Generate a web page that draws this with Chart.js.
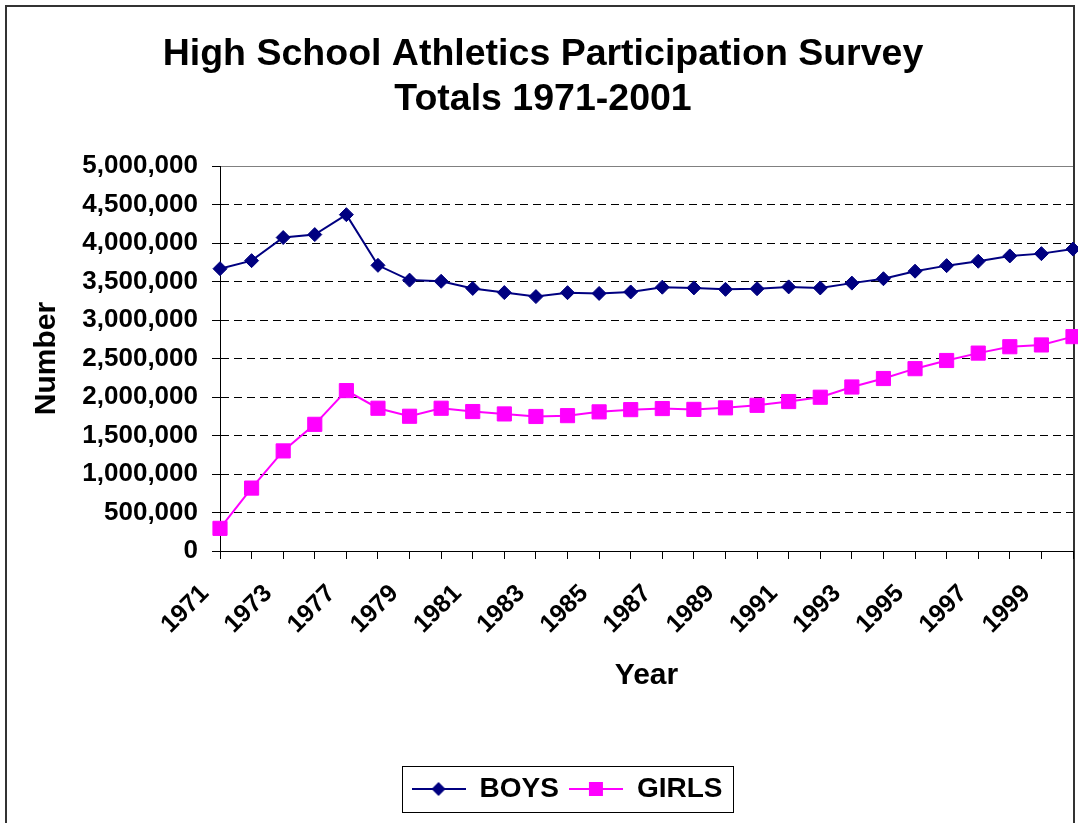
<!DOCTYPE html>
<html>
<head>
<meta charset="utf-8">
<title>High School Athletics Participation Survey</title>
<script src="https://cdn.jsdelivr.net/npm/chart.js@4.4.1/dist/chart.umd.min.js"></script>
<style>
  html, body { margin: 0; padding: 0; background: #fff; overflow: hidden; }
</style>
</head>
<body>
<!-- a bit wider than the window: the original picture is cut off on the right -->
<canvas id="chart" width="1084" height="823"></canvas>
<script>
// survey years (a few early years are missing from the survey)
const years = ['1971', '1972', '1973', '1975', '1977', '1978', '1979', '1980', '1981', '1982',
  '1983', '1984', '1985', '1986', '1987', '1988', '1989', '1990', '1991', '1992',
  '1993', '1994', '1995', '1996', '1997', '1998', '1999', '2000'];

// only every other year gets a label on the axis
const xTickLabels = ['1971', '1973', '1977', '1979', '1981', '1983', '1985', '1987',
  '1989', '1991', '1993', '1995', '1997', '1999'];

const boys = [3666000, 3771000, 4071000, 4109000, 4368000, 3710000, 3518000, 3503000, 3410000, 3356000,
  3304000, 3355000, 3345000, 3364000, 3426000, 3417000, 3398000, 3406000, 3430000, 3416000,
  3479000, 3536000, 3634000, 3706000, 3763000, 3832000, 3862000, 3921000];

const girls = [294000, 817000, 1300000, 1645000, 2083000, 1854000, 1750000, 1854000, 1811000, 1780000,
  1747000, 1758000, 1807000, 1836000, 1850000, 1839000, 1859000, 1892000, 1941000, 1997000,
  2130000, 2240000, 2368000, 2474000, 2570000, 2653000, 2676000, 2784000];

const BOYS_COLOR = '#000080';
const GIRLS_COLOR = '#FF00FF';
const FONT = "'Liberation Sans', Arial, sans-serif";

// legend swatch: short line with the marker in the middle
function makeSwatch(color, shape) {
  const c = document.createElement('canvas');
  c.width = 54;
  c.height = 20;
  const g = c.getContext('2d');
  g.strokeStyle = color;
  g.lineWidth = 2;
  g.beginPath();
  g.moveTo(0, 10);
  g.lineTo(54, 10);
  g.stroke();
  g.fillStyle = color;
  g.beginPath();
  if (shape === 'diamond') {
    g.moveTo(27, 3);
    g.lineTo(34, 10);
    g.lineTo(27, 17);
    g.lineTo(20, 10);
    g.closePath();
  } else {
    g.rect(20, 3, 14, 14);
  }
  g.fill();
  return c;
}
const swatches = [makeSwatch(BOYS_COLOR, 'diamond'), makeSwatch(GIRLS_COLOR, 'square')];

const LEGEND_SHIFT = 24;

const framePlugin = {
  id: 'frame',
  beforeDraw(chart) {
    const ctx = chart.ctx;
    ctx.save();
    ctx.fillStyle = '#fff';
    ctx.fillRect(0, 0, chart.width, chart.height);
    ctx.strokeStyle = '#333';
    ctx.lineWidth = 2;
    ctx.strokeRect(6, 6, 1068, 900);
    ctx.restore();
  },
  afterUpdate(chart) {
    // nudge the legend to the right, like the original
    const lg = chart.legend;
    lg.left += LEGEND_SHIFT;
    lg.right += LEGEND_SHIFT;
    lg.legendHitBoxes.forEach(h => { h.left += LEGEND_SHIFT; });
  },
  afterDraw(chart) {
    const boxes = chart.legend.legendHitBoxes;
    if (!boxes.length) return;
    const left = Math.min(...boxes.map(b => b.left)) - 10;
    const right = Math.max(...boxes.map(b => b.left + b.width)) + 10;
    const top = Math.min(...boxes.map(b => b.top)) - 9;
    const bottom = Math.max(...boxes.map(b => b.top + b.height)) + 9;
    const ctx = chart.ctx;
    ctx.save();
    ctx.strokeStyle = '#000';
    ctx.lineWidth = 1;
    ctx.strokeRect(Math.round(left) + 0.5, Math.round(top) + 0.5, Math.round(right - left), Math.round(bottom - top));
    ctx.restore();
  }
};

const isTop = c => c.tick && c.tick.value === 5000000;

new Chart(document.getElementById('chart'), {
  type: 'line',
  data: {
    labels: years,
    datasets: [
      {
        label: 'BOYS',
        data: boys,
        borderColor: BOYS_COLOR,
        backgroundColor: BOYS_COLOR,
        borderWidth: 2,
        pointStyle: 'rectRot',
        pointRadius: 7,
        pointBorderWidth: 1,
        tension: 0,
        clip: false
      },
      {
        label: 'GIRLS',
        data: girls,
        borderColor: GIRLS_COLOR,
        backgroundColor: GIRLS_COLOR,
        borderWidth: 2,
        pointStyle: 'rect',
        pointRadius: 10,
        pointBorderWidth: 1,
        tension: 0,
        clip: false
      }
    ]
  },
  options: {
    responsive: false,
    animation: false,
    devicePixelRatio: 1,
    layout: { padding: { top: 0, left: 6, right: 4, bottom: 10 } },
    scales: {
      x: {
        grid: { drawOnChartArea: false, drawTicks: true, tickLength: 8, tickColor: '#000', color: '#000' },
        border: { color: '#000', width: 1 },
        ticks: {
          autoSkip: false,
          minRotation: 45,
          maxRotation: 45,
          padding: 20,
          labelOffset: -15,
          color: '#000',
          font: { family: FONT, size: 25, weight: 'bold' },
          callback: (v, i) => xTickLabels.includes(years[i]) ? years[i] : ''
        },
        title: {
          display: true,
          text: 'Year',
          color: '#000',
          font: { family: FONT, size: 30, weight: 'bold' },
          padding: { top: 0, bottom: 71 }
        },
        afterFit(scale) {
          scale.height = 214;
          scale.paddingRight = 0;
        }
      },
      y: {
        min: 0,
        max: 5000000,
        grid: {
          color: c => isTop(c) ? '#808080' : '#000',
          lineWidth: 1,
          drawTicks: true,
          tickLength: 8,
          tickColor: '#000'
        },
        border: { color: '#000', width: 1, dash: c => isTop(c) ? [] : [8, 5] },
        ticks: {
          stepSize: 500000,
          padding: 14,
          color: '#000',
          font: { family: FONT, size: 26, weight: 'bold' },
          callback: v => v.toLocaleString('en-US')
        },
        title: {
          display: true,
          text: 'Number',
          color: '#000',
          font: { family: FONT, size: 30, weight: 'bold' },
          padding: { top: 23, bottom: 0 }
        },
        afterFit(scale) { scale.width = 214; }
      }
    },
    plugins: {
      title: {
        display: true,
        text: ['High School Athletics Participation Survey', 'Totals 1971-2001'],
        color: '#000',
        font: { family: FONT, size: 37.5, weight: 'bold', lineHeight: 1.2 },
        padding: { top: 32, bottom: 44 }
      },
      legend: {
        position: 'bottom',
        labels: {
          usePointStyle: true,
          pointStyleWidth: 54,
          padding: 10,
          color: '#000',
          font: { family: FONT, size: 28, weight: 'bold' },
          generateLabels: chart => chart.data.datasets.map((ds, i) => ({
            text: ds.label,
            pointStyle: swatches[i],
            fillStyle: ds.borderColor,
            strokeStyle: ds.borderColor,
            lineWidth: 0,
            hidden: false,
            datasetIndex: i
          }))
        }
      },
      tooltip: { enabled: false }
    }
  },
  plugins: [framePlugin]
});
</script>
</body>
</html>
